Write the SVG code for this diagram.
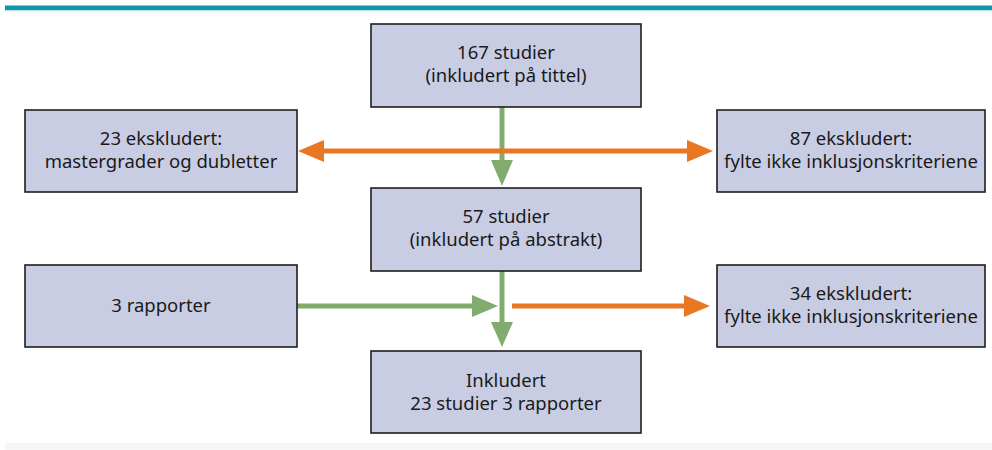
<svg xmlns="http://www.w3.org/2000/svg" width="992" height="450" viewBox="0 0 992 450">
<defs>
<style>
.box{fill:#c9cde3;stroke:#1e1e1e;stroke-width:1.6}
.t{font-family:"Noto Sans","Open Sans","Liberation Sans",sans-serif;font-size:18.5px;fill:#1a1a1a;text-anchor:middle}
.g{stroke:#82ab6e;stroke-width:5;fill:none}
.o{stroke:#e87722;stroke-width:5;fill:none}
</style>
</defs>
<rect x="0" y="0" width="992" height="450" fill="#ffffff"/>
<rect x="5" y="5.5" width="987" height="4.5" fill="#0f97ac"/>
<rect x="5" y="10" width="987" height="1.2" fill="#b9e0e6"/>
<rect x="5" y="443" width="987" height="7" fill="#f6f6f6"/>
<g id="connectors">
<line class="g" x1="502" y1="107" x2="502" y2="161"/>
<polygon points="491,160 513,160 502,186" fill="#82ab6e"/>
<line class="o" x1="322" y1="151" x2="689" y2="151"/>
<polygon points="298,151 324,140 324,162" fill="#e87722"/>
<polygon points="713,151 687,140 687,162" fill="#e87722"/>
<line class="g" x1="502" y1="271" x2="502" y2="323"/>
<polygon points="491,322 513,322 502,347" fill="#82ab6e"/>
<line class="g" x1="297" y1="306" x2="474" y2="306"/>
<polygon points="498,306 472,295 472,317" fill="#82ab6e"/>
<line class="o" x1="512" y1="306" x2="686" y2="306"/>
<polygon points="710,306 684,295 684,317" fill="#e87722"/>
</g>
<g id="n1"><rect class="box" x="371" y="24" width="270" height="83"/>
<text class="t" x="506" y="59">167 studier</text><text class="t" x="506" y="82">(inkludert på tittel)</text></g>
<g id="n2"><rect class="box" x="25" y="110" width="272" height="82"/>
<text class="t" x="161" y="145">23 ekskludert:</text><text class="t" x="161" y="168">mastergrader og dubletter</text></g>
<g id="n3"><rect class="box" x="717" y="110" width="268" height="82"/>
<text class="t" x="851" y="145">87 ekskludert:</text><text class="t" x="851" y="168">fylte ikke inklusjonskriteriene</text></g>
<g id="n4"><rect class="box" x="371" y="188" width="270" height="83"/>
<text class="t" x="506" y="223">57 studier</text><text class="t" x="506" y="246">(inkludert på abstrakt)</text></g>
<g id="n5"><rect class="box" x="25" y="265" width="272" height="82"/>
<text class="t" x="161" y="312">3 rapporter</text></g>
<g id="n6"><rect class="box" x="717" y="265" width="268" height="82"/>
<text class="t" x="851" y="300">34 ekskludert:</text><text class="t" x="851" y="323">fylte ikke inklusjonskriteriene</text></g>
<g id="n7"><rect class="box" x="371" y="351" width="270" height="82"/>
<text class="t" x="506" y="387">Inkludert</text><text class="t" x="506" y="410">23 studier 3 rapporter</text></g>
</svg>
